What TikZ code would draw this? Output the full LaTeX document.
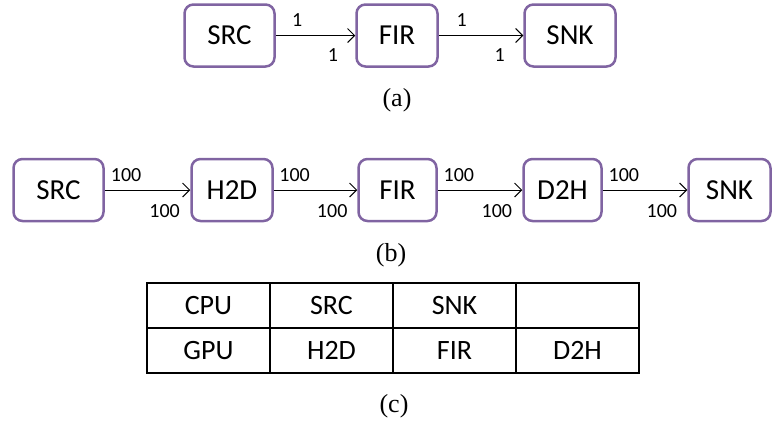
\documentclass[tikz,border=0pt]{standalone}
\usepackage{fontspec}
\setmainfont{Carlito}
\newfontfamily\capfont{Liberation Serif}
\usetikzlibrary{arrows.meta}
\usetikzlibrary{positioning}
\definecolor{actorpurple}{RGB}{128,100,162}
\tikzset{
  actor/.style={draw=actorpurple, line width=2.5pt, rounded corners=9pt,
    minimum height=62pt, font=\fontsize{29}{34}\selectfont},
  rate/.style={font=\fontsize{20}{24}\selectfont, inner sep=1pt},
  flow/.style={-{Straight Barb[length=7pt,width=14pt]}, line width=1pt},
  caption/.style={font=\capfont\fontsize{26}{30}\selectfont},
  cell/.style={draw, line width=1.2pt, minimum width=123pt, minimum height=45pt,
    font=\fontsize{28}{32}\selectfont}
}

\begin{document}
\begin{tikzpicture}[x=1pt, y=-1pt]
  \useasboundingbox (0,0) rectangle (772,421);
  % (a) single rate
  \foreach \name/\txt/\x/\w in {asrc/SRC/229.5/90, afir/FIR/397/81, asnk/SNK/570/91} {
    \node[actor, minimum width=\w pt] (\name) at (\x,35.5) {\txt};
  }
  \foreach \a/\b in {asrc/afir, afir/asnk} {
    \draw[flow] (\a) -- node[rate, pos=0.27, above=8pt] (\a-out) {1}
      node[rate, pos=0.72, below=12pt] (\b-in) {1} (\b);
  }
  \node[caption] (capa) at (397,100) {(a)};
  % (b) with copies
  \foreach \name/\txt/\x/\w in {bsrc/SRC/58.5/90, bhtod/H2D/232/81, bfir/FIR/397.5/78,
      bdtoh/D2H/562.5/78, bsnk/SNK/729.5/82} {
    \node[actor, minimum width=\w pt] (\name) at (\x,190) {\txt};
  }
  \foreach \a/\b in {bsrc/bhtod, bhtod/bfir, bfir/bdtoh, bdtoh/bsnk} {
    \draw[flow] (\a) -- node[rate, pos=0.25, above=7pt] (\a-out) {100}
      node[rate, pos=0.70, below=13pt] (\b-in) {100} (\b);
  }
  \node[caption] (capb) at (391,255) {(b)};
  % (c) mapping
  \foreach \col/\up/\down in {0/CPU/GPU, 1/SRC/H2D, 2/SNK/FIR, 3//D2H} {
    \node[cell] (up\col) at ({208.5+123*\col},305.5) {\up};
    \node[cell] (down\col) at ({208.5+123*\col},350.5) {\down};
  }
  \node[caption] (capc) at (394,406) {(c)};
\end{tikzpicture}
\end{document}
